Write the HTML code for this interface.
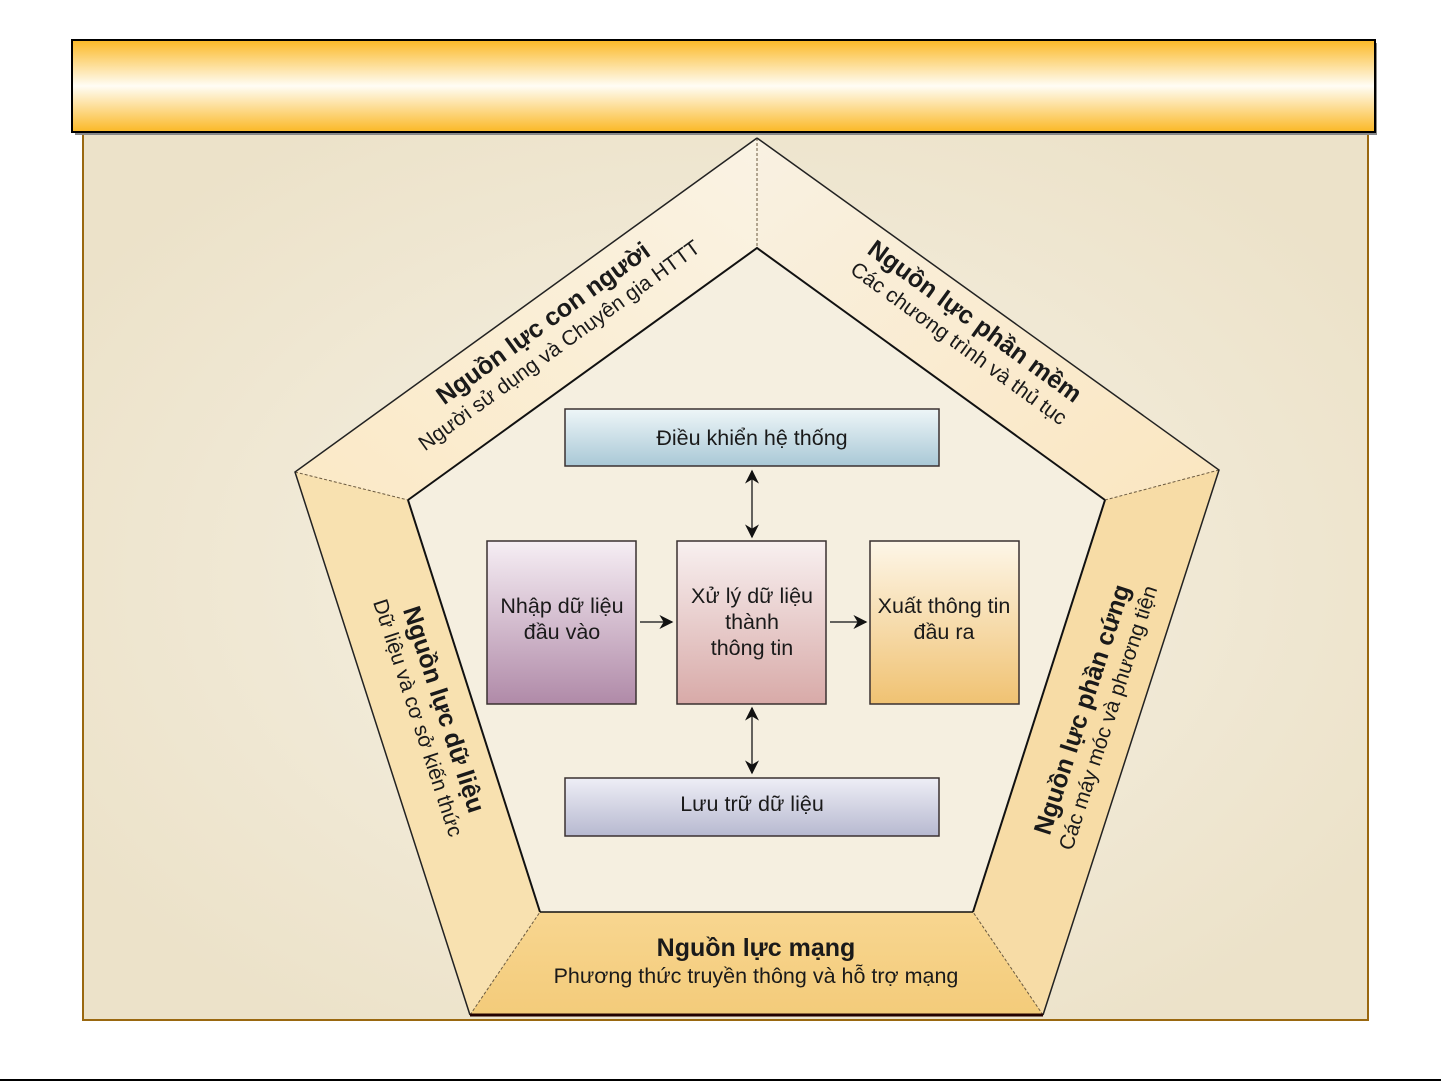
<!DOCTYPE html>
<html><head><meta charset="utf-8"><style>
html,body{margin:0;padding:0;background:#fff;}
svg{display:block;}
text{font-family:"Liberation Sans",sans-serif;fill:#1a1a1a;}
</style></head><body>
<svg width="1441" height="1081" viewBox="0 0 1441 1081" xmlns="http://www.w3.org/2000/svg">
<defs>
<linearGradient id="hdr" x1="0" y1="0" x2="0" y2="1">
<stop offset="0" stop-color="#fbb825"/><stop offset="0.5" stop-color="#fffdf5"/><stop offset="1" stop-color="#fbb825"/>
</linearGradient>
<radialGradient id="bg" cx="0.5" cy="0.5" r="0.6">
<stop offset="0" stop-color="#f6f2e6"/><stop offset="1" stop-color="#ece2c9"/>
</radialGradient>
<linearGradient id="blue" x1="0" y1="0" x2="0" y2="1"><stop offset="0" stop-color="#eef6f8"/><stop offset="1" stop-color="#a9c8d6"/></linearGradient>
<linearGradient id="lav" x1="0" y1="0" x2="0" y2="1"><stop offset="0" stop-color="#eeeef6"/><stop offset="1" stop-color="#b7b9d0"/></linearGradient>
<linearGradient id="pur" x1="0" y1="0" x2="0" y2="1"><stop offset="0" stop-color="#f6eef4"/><stop offset="1" stop-color="#b08aa8"/></linearGradient>
<linearGradient id="pink" x1="0" y1="0" x2="0" y2="1"><stop offset="0" stop-color="#f8f0f0"/><stop offset="1" stop-color="#d8aaa8"/></linearGradient>
<linearGradient id="org" x1="0" y1="0" x2="0" y2="1"><stop offset="0" stop-color="#fdf6e8"/><stop offset="1" stop-color="#f0c272"/></linearGradient>
<linearGradient id="tl" x1="0" y1="1" x2="1" y2="0"><stop offset="0" stop-color="#fbe9c6"/><stop offset="1" stop-color="#faf3e4"/></linearGradient>
<linearGradient id="tr" x1="0" y1="0" x2="1" y2="1"><stop offset="0" stop-color="#f9f1e2"/><stop offset="1" stop-color="#fae6c0"/></linearGradient>
<linearGradient id="bt" x1="0" y1="0" x2="0" y2="1"><stop offset="0" stop-color="#f8d690"/><stop offset="1" stop-color="#f3cb7a"/></linearGradient>
<marker id="ah" viewBox="0 0 10 10" refX="9" refY="5" markerWidth="14" markerHeight="14" markerUnits="userSpaceOnUse" orient="auto-start-reverse"><path d="M0,0 L10,5 L0,10 L3,5 Z" fill="#111"/></marker>
</defs>
<rect x="83" y="133" width="1285" height="887" fill="url(#bg)" stroke="#9a6810" stroke-width="2"/>
<rect x="75" y="43" width="1302" height="92" fill="#888"/>
<rect x="72" y="40" width="1303" height="92" fill="url(#hdr)" stroke="#000" stroke-width="2"/>
<polygon points="757,138 757,248 408,500 295,472" fill="url(#tl)"/>
<polygon points="757,138 1219,470 1105,500 757,248" fill="url(#tr)"/>
<polygon points="295,472 408,500 540,912 470,1015" fill="#f8e1b0"/>
<polygon points="1219,470 1043,1015 973,912 1105,500" fill="#f7dca6"/>
<polygon points="540,912 973,912 1043,1015 470,1015" fill="url(#bt)"/>
<polygon points="757,248 1105,500 973,912 540,912 408,500" fill="#f5efe0"/>
<g stroke="#6b5a40" stroke-width="1" stroke-dasharray="3,2" fill="none">
<line x1="757" y1="138" x2="757" y2="248"/>
<line x1="295" y1="472" x2="408" y2="500"/>
<line x1="1219" y1="470" x2="1105" y2="500"/>
<line x1="470" y1="1015" x2="540" y2="912"/>
<line x1="1043" y1="1015" x2="973" y2="912"/>
</g>
<g stroke="#222" stroke-width="1.5" fill="none">
<polyline points="757,138 295,472 470,1015"/>
<polyline points="757,138 1219,470 1043,1015"/>
</g>
<g stroke="#111" stroke-width="2" fill="none">
<polyline points="408,500 757,248 1105,500"/>
<line x1="408" y1="500" x2="540" y2="912"/>
<line x1="1105" y1="500" x2="973" y2="912"/>
<line x1="540" y1="912" x2="973" y2="912" stroke-width="1.5"/>
<line x1="470" y1="1015" x2="1043" y2="1015" stroke="#200" stroke-width="3"/>
</g>
<g transform="translate(548,330) rotate(-36)" text-anchor="middle">
<text x="0" y="0" font-size="25" font-weight="bold">Nguồn lực con người</text>
<text x="0" y="26" font-size="21">Người sử dụng và Chuyên gia HTTT</text>
</g>
<g transform="translate(970,328) rotate(36)" text-anchor="middle">
<text x="0" y="0" font-size="25" font-weight="bold">Nguồn lực phần mềm</text>
<text x="0" y="26" font-size="21">Các chương trình và thủ tục</text>
</g>
<g transform="translate(436,712) rotate(72)" text-anchor="middle">
<text x="0" y="0" font-size="25" font-weight="bold">Nguồn lực dữ liệu</text>
<text x="0" y="26" font-size="21">Dữ liệu và cơ sở kiến thức</text>
</g>
<g transform="translate(1090,712) rotate(-72)" text-anchor="middle">
<text x="0" y="0" font-size="25" font-weight="bold">Nguồn lực phần cứng</text>
<text x="0" y="26" font-size="21">Các máy móc và phương tiện</text>
</g>
<g text-anchor="middle">
<text x="756" y="956" font-size="25" font-weight="bold">Nguồn lực mạng</text>
<text x="756" y="983" font-size="21.5">Phương thức truyền thông và hỗ trợ mạng</text>
</g>
<g stroke="#3a3030" stroke-width="1.5">
<rect x="565" y="409" width="374" height="57" fill="url(#blue)"/>
<rect x="565" y="778" width="374" height="58" fill="url(#lav)"/>
<rect x="487" y="541" width="149" height="163" fill="url(#pur)"/>
<rect x="677" y="541" width="149" height="163" fill="url(#pink)"/>
<rect x="870" y="541" width="149" height="163" fill="url(#org)"/>
</g>
<g text-anchor="middle" font-size="21.5">
<text x="752" y="445">Điều khiển hệ thống</text>
<text x="752" y="811">Lưu trữ dữ liệu</text>
<text x="562" y="613">Nhập dữ liệu</text>
<text x="562" y="639">đầu vào</text>
<text x="752" y="603">Xử lý dữ liệu</text>
<text x="752" y="629">thành</text>
<text x="752" y="655">thông tin</text>
<text x="944" y="613">Xuất thông tin</text>
<text x="944" y="639">đầu ra</text>
</g>
<g stroke="#333" stroke-width="1.5">
<line x1="752" y1="471" x2="752" y2="537" marker-start="url(#ah)" marker-end="url(#ah)"/>
<line x1="752" y1="708" x2="752" y2="773" marker-start="url(#ah)" marker-end="url(#ah)"/>
<line x1="640" y1="622" x2="672" y2="622" marker-end="url(#ah)"/>
<line x1="830" y1="622" x2="866" y2="622" marker-end="url(#ah)"/>
</g>
<line x1="0" y1="1080" x2="1441" y2="1080" stroke="#000" stroke-width="2"/>
</svg>
</body></html>
